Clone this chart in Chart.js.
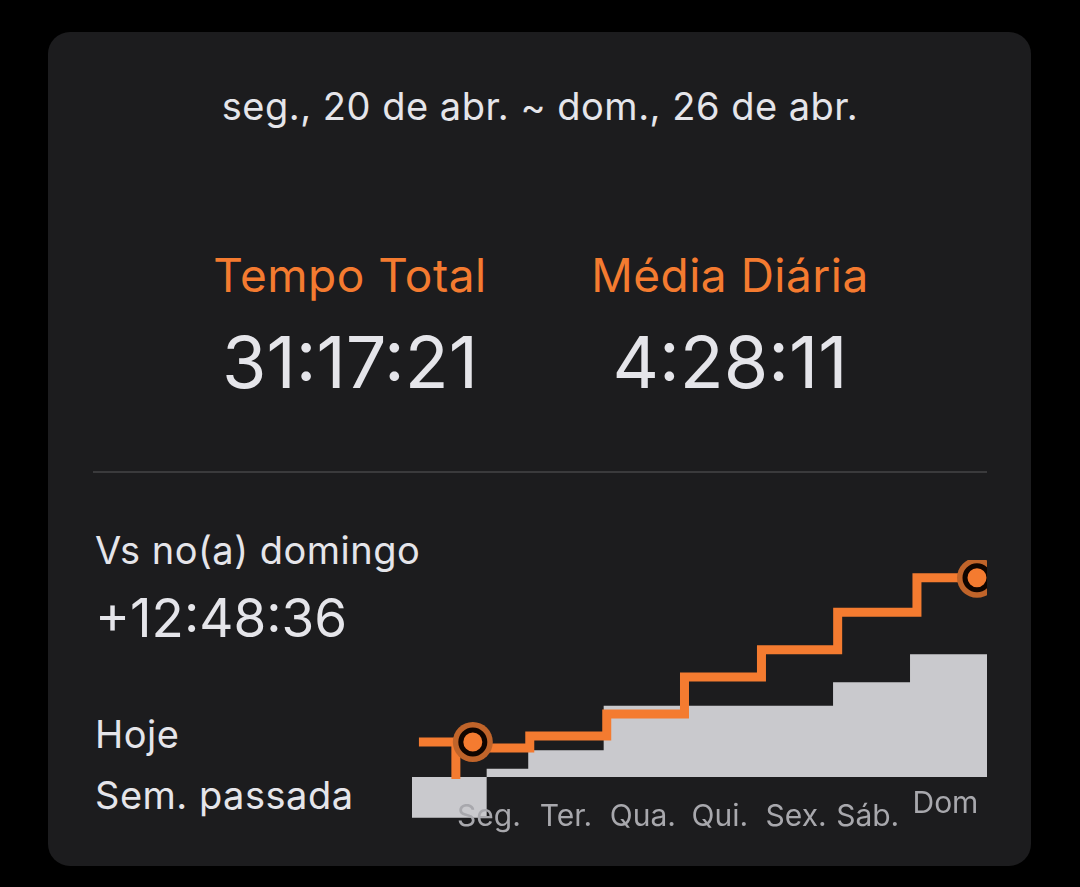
<!DOCTYPE html>
<html><head><meta charset="utf-8">
<script src="https://cdn.jsdelivr.net/npm/chart.js@4/dist/chart.umd.min.js"></script>
<style>
body{margin:0;background:#000;width:1080px;height:887px;overflow:hidden;font-family:Inter,sans-serif;color:#e5e5ea}
#card{position:absolute;left:48px;top:32px;width:983px;height:834px;background:#1c1c1e;border-radius:22px}
.t{position:absolute;white-space:nowrap;line-height:1}
#chartBox{position:absolute;left:412px;top:560px;width:575px;height:280px}
</style></head><body>
<div id="card"></div>
<div class="t" style="left:0;width:1080px;text-align:center;top:87px;font-size:38px;letter-spacing:0.5px">seg., 20 de abr. ~ dom., 26 de abr.</div>
<div class="t" style="left:150px;width:400px;text-align:center;top:252px;font-size:46px;letter-spacing:0.5px;color:#f47b30">Tempo Total</div>
<div class="t" style="left:530px;width:400px;text-align:center;top:252px;font-size:46px;letter-spacing:0.5px;color:#f47b30">Média Diária</div>
<div class="t" style="left:150px;width:400px;text-align:center;top:326px;font-size:72px">31:17:21</div>
<div class="t" style="left:530px;width:400px;text-align:center;top:326px;font-size:72px">4:28:11</div>
<div style="position:absolute;left:93px;top:471px;width:894px;height:2px;background:#3a3a3c"></div>
<div class="t" style="left:95px;top:531px;font-size:38px;letter-spacing:0.5px">Vs no(a) domingo</div>
<div class="t" style="left:95px;top:592px;font-size:53px">+12:48:36</div>
<div class="t" style="left:95px;top:715px;font-size:38px;letter-spacing:0.5px">Hoje</div>
<div class="t" style="left:95px;top:776px;font-size:38px;letter-spacing:0.5px">Sem. passada</div>
<div id="chartBox"><canvas id="c"></canvas></div>
<script>
const dayLabels=["Seg.","Ter.","Qua.","Qui.","Sex.","Sáb.","Dom"];
const tickPos=[0.43,1.43,2.43,3.43,4.42,5.35,6.36];
const todayX=[-0.48,0,0,0.96,1.96,2.97,3.97,4.96,5.99,6.9];
const todayY=[5.5,-0.3,4.56,6.45,9.9,15.7,20.0,25.9,31.3,31.3];
const lastX=[-0.57,0.4,0.94,1.92,4.9,5.9,6.9];
const lastY=[-6.4,1.3,4.2,11.2,14.9,19.3,19.3];
const markX=[0.22,6.77];
const markY=[5.5,31.3];
const pts=(xs,ys)=>xs.map((x,i)=>({x,y:ys[i]}));
const marks=pts(markX,markY);
const labelPlugin={id:'lbl',afterDraw(ch){const c=ch.ctx,xs=ch.scales.x;c.save();c.font='30px Inter';c.fillStyle='#a8a8ad';c.textAlign='center';c.textBaseline='alphabetic';
dayLabels.forEach((l,i)=>{c.fillText(l,xs.getPixelForValue(tickPos[i]),i==6?253:266);});c.restore();}};
new Chart(document.getElementById('c'),{
type:'scatter',
data:{datasets:[
{type:'line',data:pts(todayX,todayY),stepped:'before',borderColor:'#f47b30',borderWidth:9,borderJoinStyle:'miter',borderCapStyle:'butt',pointRadius:0,fill:false,clip:false,order:1},
{type:'line',data:pts(lastX,lastY),stepped:'before',borderColor:'rgba(0,0,0,0)',borderWidth:0,backgroundColor:'#c9c9cd',fill:'origin',pointRadius:0,order:3},
{data:marks,pointRadius:20,backgroundColor:'#c0642a',borderWidth:0,clip:false,order:0},
{data:marks,pointRadius:12,backgroundColor:'#f47b30',borderColor:'#100500',borderWidth:5,clip:false,order:-1}
]},
options:{responsive:true,maintainAspectRatio:false,animation:false,layout:{padding:0,autoPadding:false},
plugins:{legend:{display:false},tooltip:{enabled:false}},
scales:{x:{type:'linear',min:-0.57,max:6.9,display:false},y:{min:-9.9,max:34.1,display:false}}},
plugins:[labelPlugin]});
</script></body></html>
